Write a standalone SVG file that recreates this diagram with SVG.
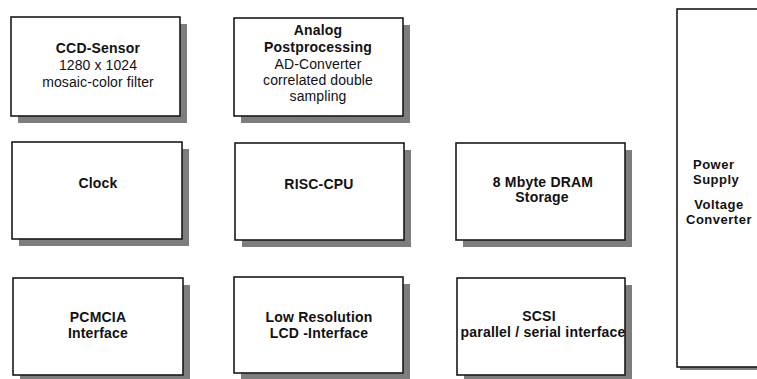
<svg xmlns="http://www.w3.org/2000/svg" width="757" height="379" viewBox="0 0 757 379">
<style>
.bg{fill:#ffffff}
.shadow{fill:#7d7d7d;stroke:none}
.box{fill:#ffffff;stroke:#1a1a1a;stroke-width:1.6}
text{font-family:"Liberation Sans",Arial,sans-serif;fill:#111111;font-size:14px;letter-spacing:0.2px}
.t{font-weight:bold;text-anchor:middle}
.n{font-weight:normal;text-anchor:middle;letter-spacing:0.1px}
.p{font-weight:bold;font-size:13px;letter-spacing:0.5px}
.pm{font-weight:bold;font-size:13px;letter-spacing:0.5px;text-anchor:middle}
</style>
<rect class="bg" x="0" y="0" width="757" height="379"/>
<g id="connectors"/>
<g id="ccd-sensor">
<rect class="shadow" x="18" y="24" width="169" height="99"/>
<rect class="box" x="11" y="17" width="169" height="99"/>
<text class="t" x="98" y="53">CCD-Sensor</text>
<text class="n" x="98" y="70">1280 x 1024</text>
<text class="n" x="98" y="87">mosaic-color filter</text>
</g>
<g id="analog-postprocessing">
<rect class="shadow" x="241" y="25" width="169" height="98"/>
<rect class="box" x="234" y="18" width="169" height="98"/>
<text class="t" x="318" y="35">Analog</text>
<text class="t" x="318" y="52">Postprocessing</text>
<text class="n" x="318" y="69">AD-Converter</text>
<text class="n" x="318" y="85">correlated double</text>
<text class="n" x="318" y="101">sampling</text>
</g>
<g id="clock">
<rect class="shadow" x="19" y="149" width="170" height="97"/>
<rect class="box" x="12" y="142" width="170" height="97"/>
<text class="t" x="98" y="188">Clock</text>
</g>
<g id="risc-cpu">
<rect class="shadow" x="242" y="150" width="169" height="97"/>
<rect class="box" x="235" y="143" width="169" height="97"/>
<text class="t" x="319" y="189">RISC-CPU</text>
</g>
<g id="dram">
<rect class="shadow" x="463" y="150" width="169" height="97"/>
<rect class="box" x="456" y="143" width="169" height="97"/>
<text class="t" x="543" y="187">8 Mbyte DRAM</text>
<text class="t" x="542" y="202">Storage</text>
</g>
<g id="pcmcia">
<rect class="shadow" x="20" y="285" width="170" height="97"/>
<rect class="box" x="13" y="278" width="170" height="97"/>
<text class="t" x="98" y="322">PCMCIA</text>
<text class="t" x="98" y="338">Interface</text>
</g>
<g id="lcd">
<rect class="shadow" x="241" y="284" width="169" height="96"/>
<rect class="box" x="234" y="277" width="169" height="96"/>
<text class="t" x="319" y="322">Low Resolution</text>
<text class="t" x="319" y="338">LCD -Interface</text>
</g>
<g id="scsi">
<rect class="shadow" x="464" y="285" width="168" height="97"/>
<rect class="box" x="457" y="278" width="168" height="97"/>
<text class="t" x="539" y="321">SCSI</text>
<text class="t" x="543" y="337">parallel / serial interface</text>
</g>
<g id="power-supply">
<rect class="shadow" x="680" y="12" width="100" height="358"/>
<rect class="box" x="677" y="9" width="100" height="358"/>
<text class="p" x="693" y="169">Power</text>
<text class="p" x="693" y="184">Supply</text>
<text class="pm" x="719" y="209">Voltage</text>
<text class="pm" x="719" y="224">Converter</text>
</g>
</svg>
